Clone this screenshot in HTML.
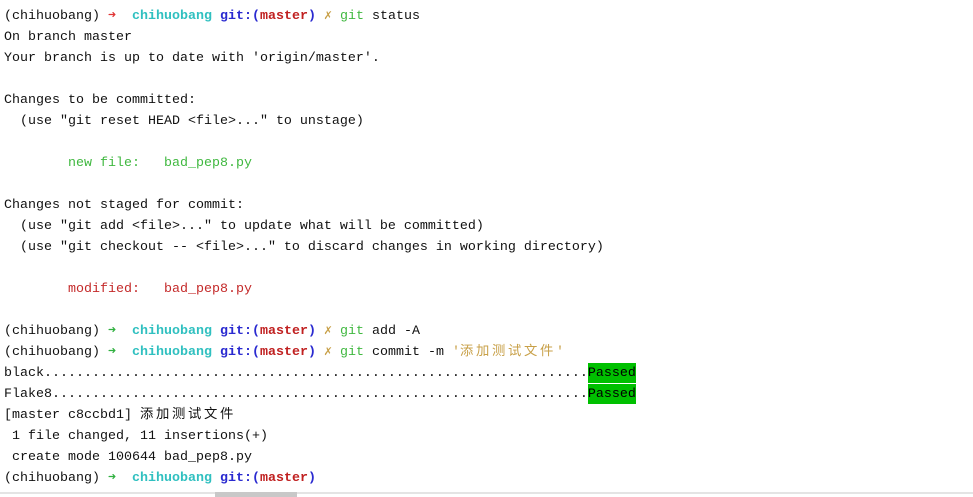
<!DOCTYPE html>
<html><head><meta charset="utf-8"><style>
html,body{margin:0;padding:0;background:#fff;width:973px;height:497px;overflow:hidden}
pre{margin:0;position:absolute;left:4px;top:6px;font-family:"Liberation Mono","Noto Sans CJK SC",monospace;font-size:13.33px;line-height:21px;color:#111}
.r{color:#e03434}.g{color:#30b040}.c{color:#30c0c0;font-weight:bold}.b{color:#2a2ad0;font-weight:bold}.m{color:#c02020;font-weight:bold}
.y{color:#c8a048}.gr{color:#40b840}.mo{color:#c42a2a}
.p{background:#00c000;color:#000;padding:3px 0 2px}
.cj{letter-spacing:2.67px;font-family:"Noto Sans CJK SC",sans-serif;line-height:0}
.bar{position:absolute;left:0;top:492px;width:973px;height:2px;background:#e4e4e4}
.th{position:absolute;left:215px;top:492px;width:82px;height:5px;background:#c8c8c8}
</style></head><body>
<pre>(chihuobang) <span class="r">➜</span>  <span class="c">chihuobang</span> <span class="b">git:(</span><span class="m">master</span><span class="b">)</span> <span class="y">✗</span> <span class="gr">git</span> status
On branch master
Your branch is up to date with 'origin/master'.

Changes to be committed:
  (use "git reset HEAD &lt;file&gt;..." to unstage)

        <span class="gr">new file:   bad_pep8.py</span>

Changes not staged for commit:
  (use "git add &lt;file&gt;..." to update what will be committed)
  (use "git checkout -- &lt;file&gt;..." to discard changes in working directory)

        <span class="mo">modified:   bad_pep8.py</span>

(chihuobang) <span class="g">➜</span>  <span class="c">chihuobang</span> <span class="b">git:(</span><span class="m">master</span><span class="b">)</span> <span class="y">✗</span> <span class="gr">git</span> add -A
(chihuobang) <span class="g">➜</span>  <span class="c">chihuobang</span> <span class="b">git:(</span><span class="m">master</span><span class="b">)</span> <span class="y">✗</span> <span class="gr">git</span> commit -m <span class="y">'<span class="cj">添加测试文件</span>'</span>
black....................................................................<span class="p">Passed</span>
Flake8...................................................................<span class="p">Passed</span>
[master c8ccbd1] <span class="cj">添加测试文件</span>
 1 file changed, 11 insertions(+)
 create mode 100644 bad_pep8.py
(chihuobang) <span class="g">➜</span>  <span class="c">chihuobang</span> <span class="b">git:(</span><span class="m">master</span><span class="b">)</span></pre>
<div class="bar"></div><div class="th"></div>
</body></html>
